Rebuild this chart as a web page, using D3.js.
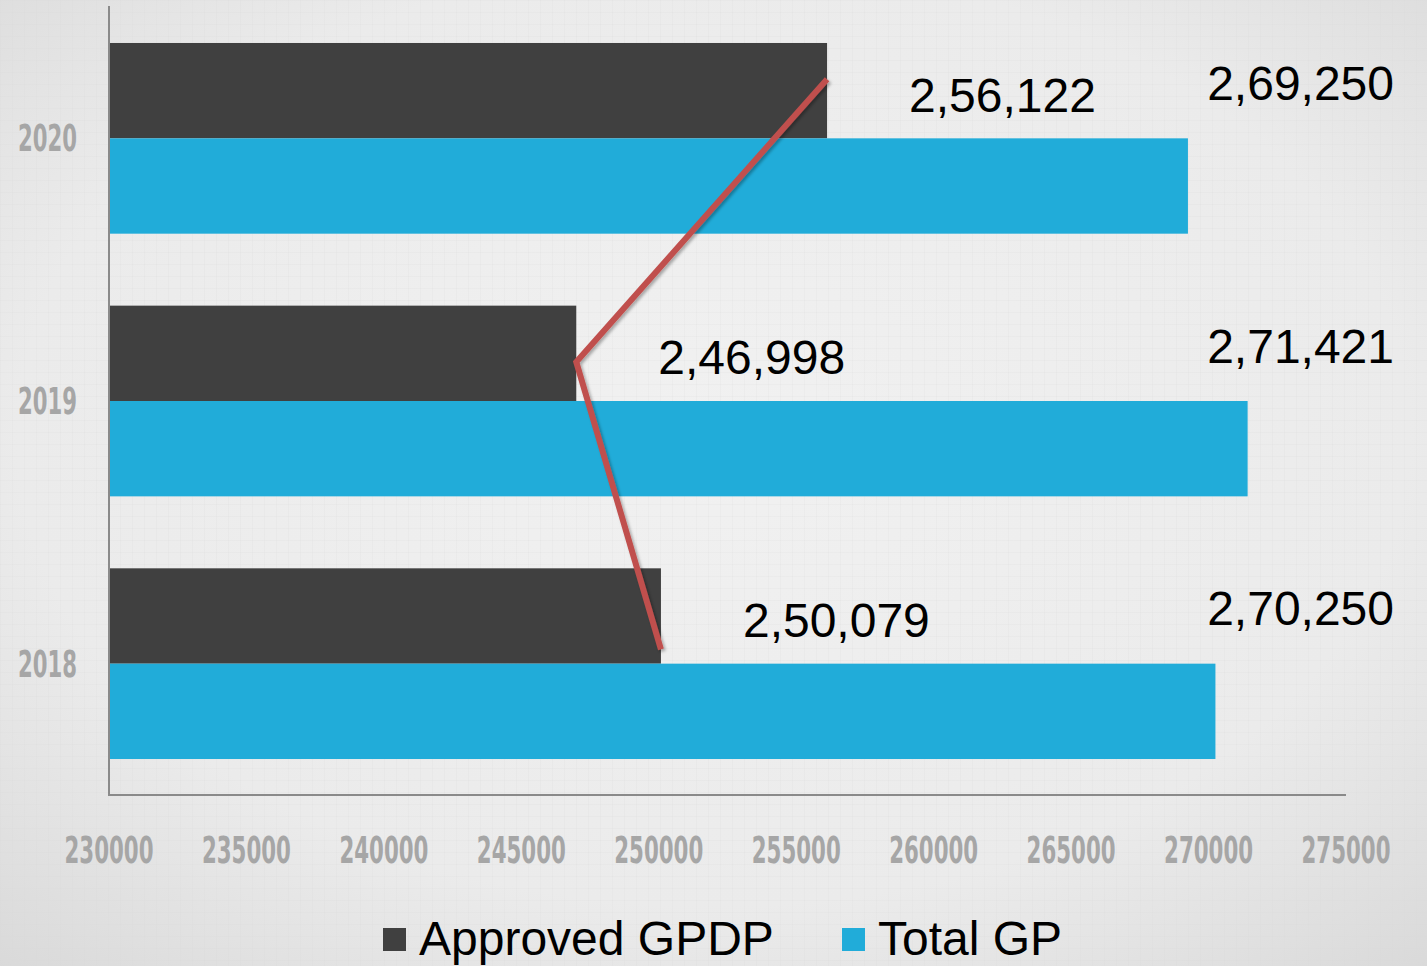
<!DOCTYPE html>
<html>
<head>
<meta charset="utf-8">
<script src="https://cdn.jsdelivr.net/npm/d3@7.9.0/dist/d3.min.js"></script>
<style>
  html, body { margin: 0; padding: 0; background: #ececec; }
  svg { display: block; }
  .tick-label { font-family: "Liberation Sans Narrow", "DejaVu Sans Condensed", "Liberation Sans", sans-serif; font-weight: bold; fill: #a6a6a6; }
  .value-label { font-family: "Liberation Sans", Arial, sans-serif; fill: #000; }
</style>
</head>
<body>
<svg width="1427" height="966"></svg>
<script>
// chart data
const years = ["2020", "2019", "2018"];
const approvedGPDP = [256122, 246998, 250079];
const totalGP = [269250, 271421, 270250];
const approvedLabels = ["2,56,122", "2,46,998", "2,50,079"];
const totalLabels = ["2,69,250", "2,71,421", "2,70,250"];
const xTicks = [230000, 235000, 240000, 245000, 250000, 255000, 260000, 265000, 270000, 275000];
const seriesNames = ["Approved GPDP", "Total GP"];

const colors = { approved: "#404040", total: "#21acd9", line: "#c0504d", axis: "#8a8a8a" };

let svg = d3.select("svg");
const W = 1427, H = 966;
const margin = { left: 109, right: 81, top: 7, bottom: 171 };

// **BACKGROUND** (light grey with faint grid texture and vignette)
let defs = svg.append("defs");
let grad = defs.append("radialGradient").attr("id", "vignette")
    .attr("cx", "50%").attr("cy", "45%").attr("r", "75%");
grad.append("stop").attr("offset", "0%").attr("stop-color", "#f1f1f1");
grad.append("stop").attr("offset", "65%").attr("stop-color", "#ebebeb");
grad.append("stop").attr("offset", "100%").attr("stop-color", "#d9d9d9");

let pat = defs.append("pattern").attr("id", "grid")
    .attr("width", 12).attr("height", 12).attr("patternUnits", "userSpaceOnUse");
pat.append("path").attr("d", "M 12 0 L 0 0 0 12")
    .attr("fill", "none").attr("stroke", "#d6d6d6").attr("stroke-width", 1).attr("opacity", 0.35);

let shadow = defs.append("filter").attr("id", "shadow")
    .attr("x", "-10%").attr("y", "-10%").attr("width", "120%").attr("height", "120%");
shadow.append("feDropShadow").attr("dx", 2).attr("dy", 2).attr("stdDeviation", 1.5)
    .attr("flood-color", "#000").attr("flood-opacity", 0.3);

svg.append("rect").attr("width", W).attr("height", H).attr("fill", "url(#vignette)");
svg.append("rect").attr("width", W).attr("height", H).attr("fill", "url(#grid)");

// **SCALES**
let x = d3.scaleLinear()
    .domain([230000, 275000])
    .range([margin.left, W - margin.right]);

let y = d3.scaleBand()
    .domain(years)
    .range([margin.top, H - margin.bottom])
    .paddingInner(0.274)
    .paddingOuter(0.137);

let ySub = d3.scaleBand()
    .domain(["approved", "total"])
    .range([0, y.bandwidth()]);

let rows = years.map((year, i) => ({
    year: year,
    approved: approvedGPDP[i],
    total: totalGP[i],
    approvedLabel: approvedLabels[i],
    totalLabel: totalLabels[i]
}));

// **BARS**
let groups = svg.selectAll("g.year")
    .data(rows)
    .enter()
    .append("g")
    .attr("class", "year")
    .attr("transform", d => `translate(0,${y(d.year)})`);

groups.append("rect")
    .attr("x", x(230000))
    .attr("y", ySub("approved"))
    .attr("width", d => x(d.approved) - x(230000))
    .attr("height", ySub.bandwidth())
    .attr("fill", colors.approved);

groups.append("rect")
    .attr("x", x(230000))
    .attr("y", ySub("total"))
    .attr("width", d => x(d.total) - x(230000))
    .attr("height", ySub.bandwidth())
    .attr("fill", colors.total);

// **AXES**
svg.append("line")
    .attr("x1", x(230000)).attr("x2", x(230000))
    .attr("y1", margin.top - 1).attr("y2", H - margin.bottom)
    .attr("stroke", colors.axis).attr("stroke-width", 2);
svg.append("line")
    .attr("x1", x(230000) - 1).attr("x2", x(275000))
    .attr("y1", H - margin.bottom).attr("y2", H - margin.bottom)
    .attr("stroke", colors.axis).attr("stroke-width", 2);

svg.selectAll("text.xtick")
    .data(xTicks)
    .enter()
    .append("text")
    .attr("class", "tick-label xtick")
    .attr("x", d => x(d))
    .attr("y", H - margin.bottom + 68)
    .attr("text-anchor", "middle")
    .attr("font-size", 37)
    .attr("textLength", 89)
    .attr("lengthAdjust", "spacingAndGlyphs")
    .text(d => d);

svg.selectAll("text.ytick")
    .data(years)
    .enter()
    .append("text")
    .attr("class", "tick-label ytick")
    .attr("x", x(230000) - 32)
    .attr("y", d => y(d) + y.bandwidth() / 2 + 13)
    .attr("text-anchor", "end")
    .attr("font-size", 37)
    .attr("textLength", 59)
    .attr("lengthAdjust", "spacingAndGlyphs")
    .text(d => d);

// **RED TREND LINE** (hand-placed overlay in the original, anchored at the approved bar ends)
const lineYFrac = [0.19, 0.295, 0.425];
let line = d3.line()
    .x(d => x(d.approved))
    .y((d, i) => y(d.year) + y.bandwidth() * lineYFrac[i]);

svg.append("path")
    .datum(rows)
    .attr("d", line)
    .attr("fill", "none")
    .attr("stroke", colors.line)
    .attr("stroke-width", 6)
    .attr("stroke-linejoin", "miter")
    .attr("filter", "url(#shadow)");

// **VALUE LABELS**
groups.append("text")
    .attr("class", "value-label")
    .attr("x", d => x(d.approved) + 82)
    .attr("y", ySub("approved") + ySub.bandwidth() / 2 + 21)
    .attr("font-size", 48)
    .text(d => d.approvedLabel);

groups.append("text")
    .attr("class", "value-label")
    .attr("x", x(275000) + 48)
    .attr("y", 57)
    .attr("text-anchor", "end")
    .attr("font-size", 48)
    .text(d => d.totalLabel);

// **LEGEND**
let legendItems = [
    { name: seriesNames[0], color: colors.approved, x: 383 },
    { name: seriesNames[1], color: colors.total, x: 842 }
];
let legend = svg.selectAll("g.legend")
    .data(legendItems)
    .enter()
    .append("g")
    .attr("class", "legend")
    .attr("transform", d => `translate(${d.x},928)`);

legend.append("rect")
    .attr("width", 23).attr("height", 23)
    .attr("fill", d => d.color);

legend.append("text")
    .attr("class", "value-label")
    .attr("x", 36)
    .attr("y", 27)
    .attr("font-size", 48)
    .text(d => d.name);
</script>
</body>
</html>
